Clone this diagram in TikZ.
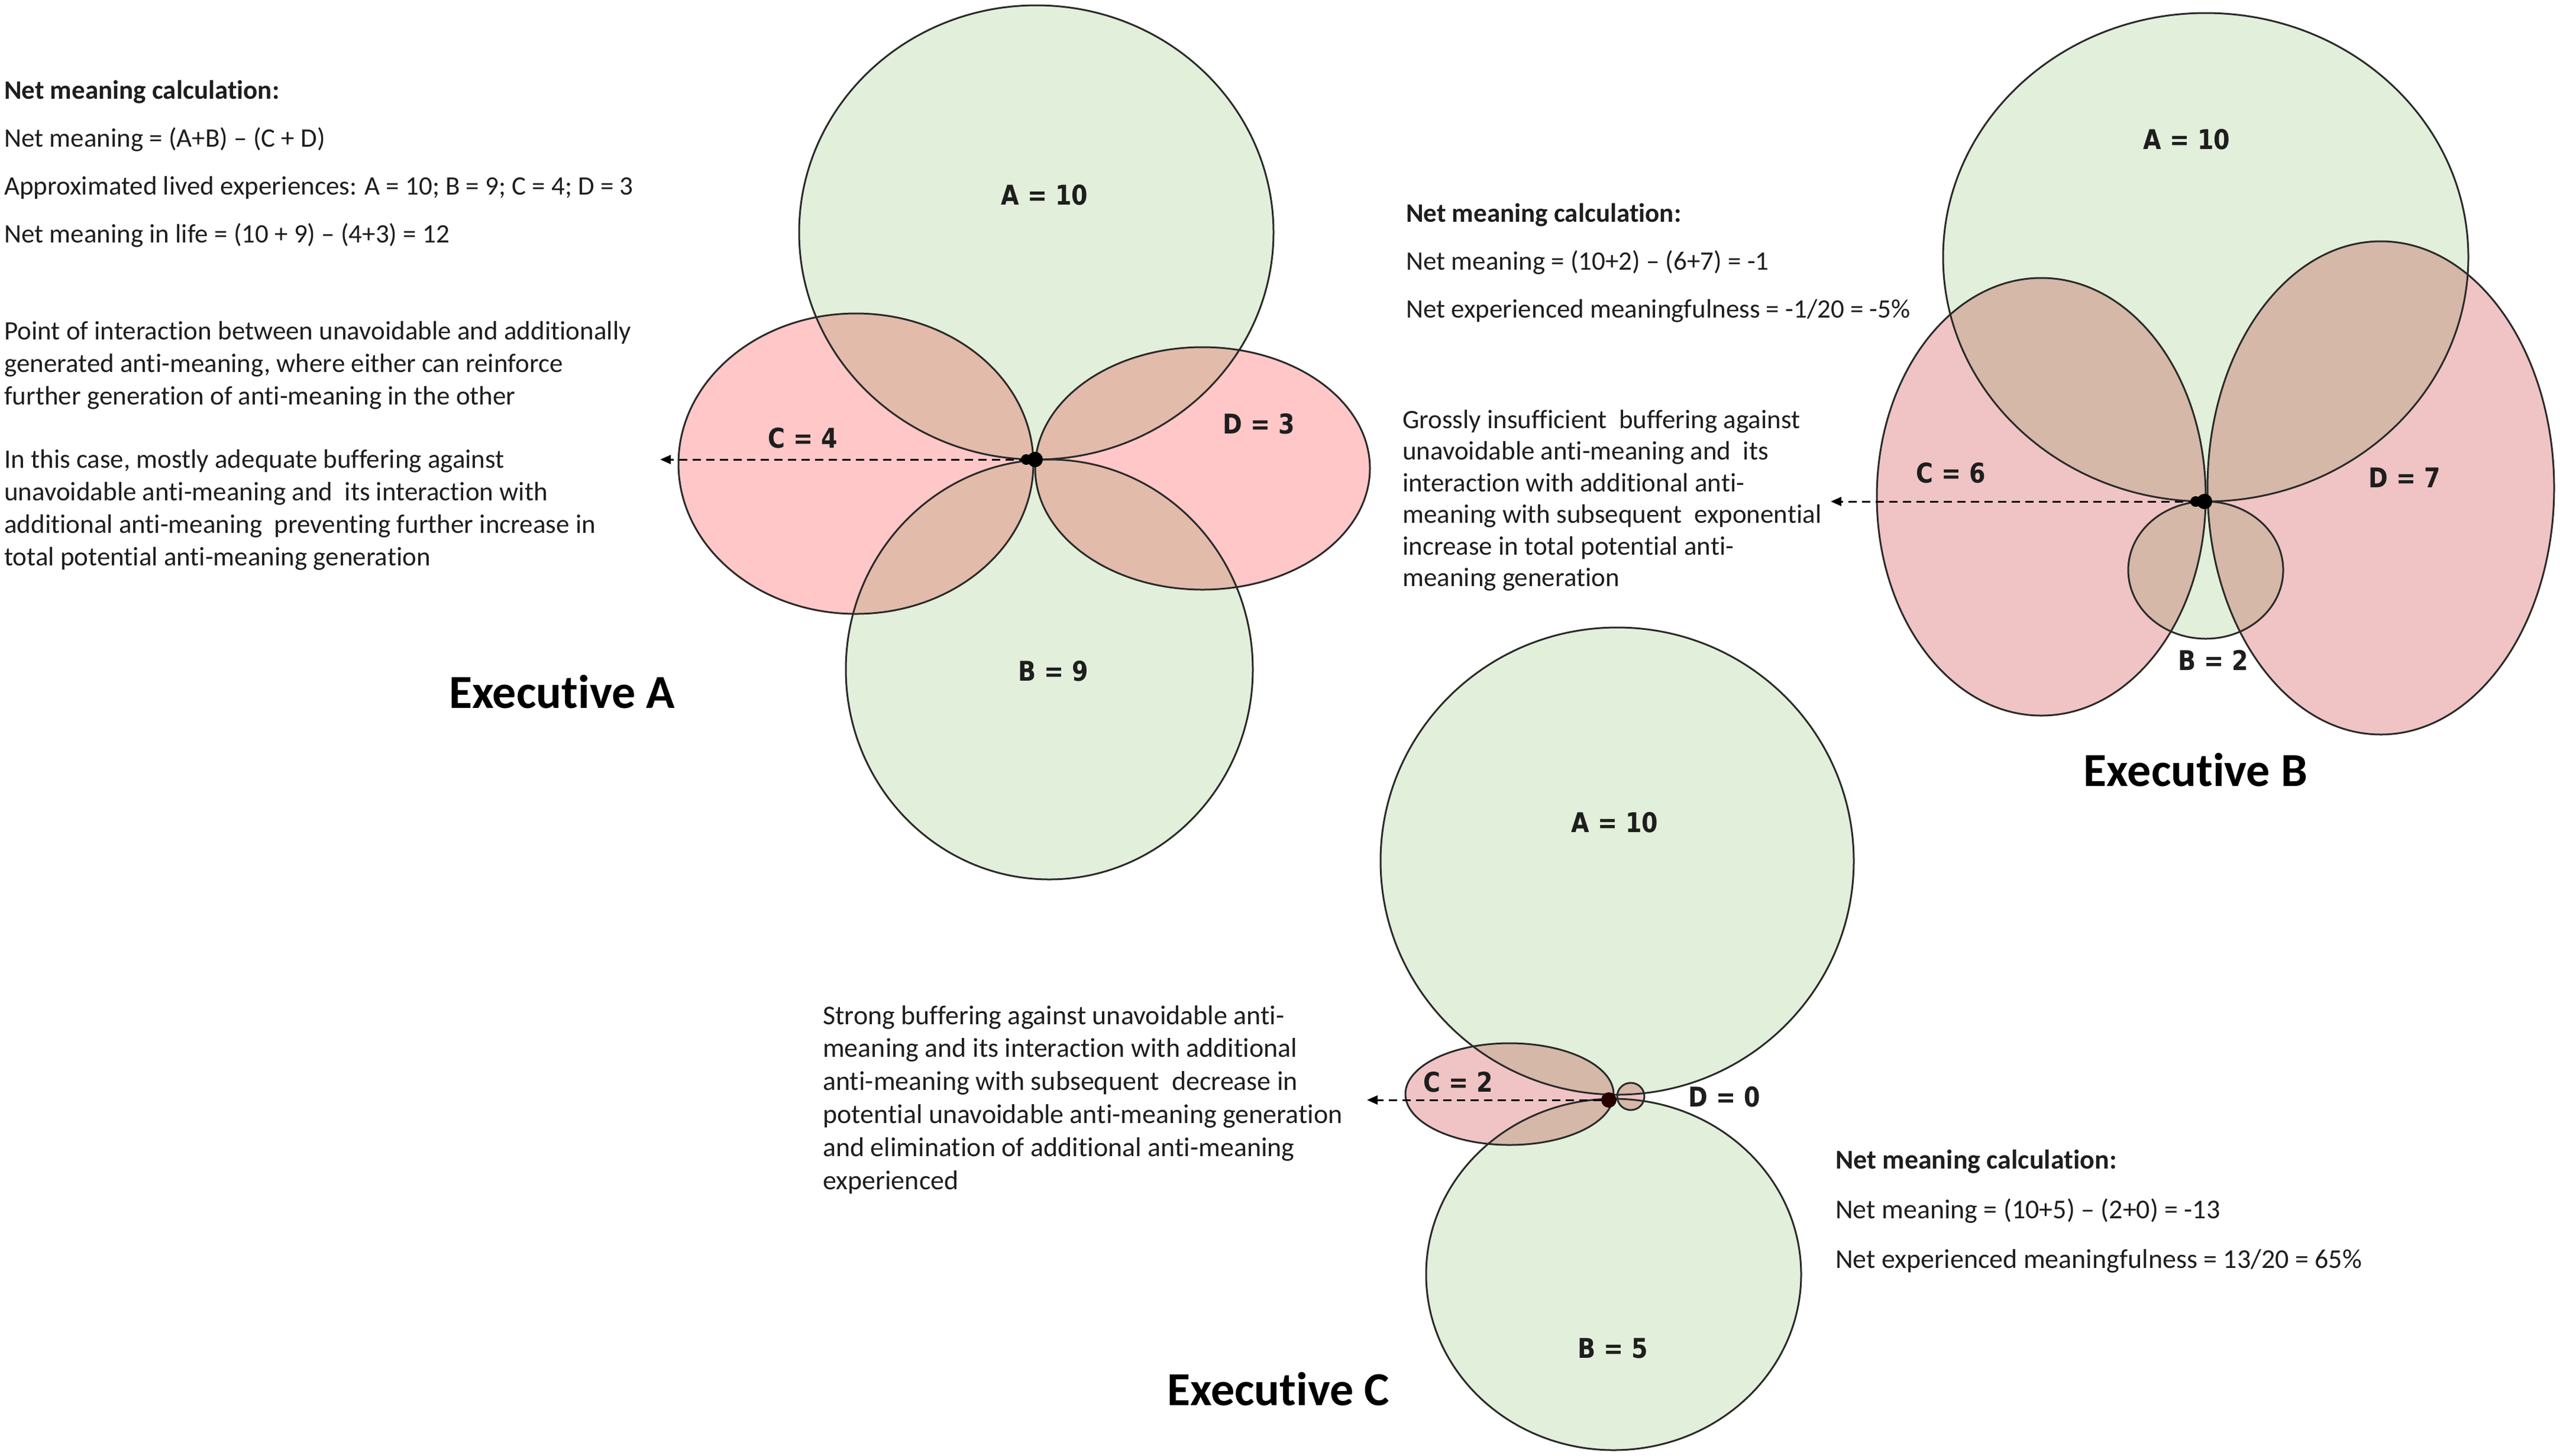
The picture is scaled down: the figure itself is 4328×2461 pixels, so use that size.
\documentclass[tikz,border=0pt]{standalone}
\usepackage{fontspec}
\setmainfont{Carlito}[Ligatures=NoCommon]
\newfontfamily\labfont{DejaVu Sans}
\usepackage{graphicx}
\usetikzlibrary{arrows.meta}
\definecolor{grn}{HTML}{E2EFDA}
\definecolor{pkA}{HTML}{FFC7C8}
\definecolor{ovA}{HTML}{E2BBAB}
\definecolor{pkB}{HTML}{F0C4C4}
\definecolor{ovB}{HTML}{D5B8A8}
\definecolor{edgec}{HTML}{2A2A2A}
\definecolor{txtc}{HTML}{1E1E1E}
\newcommand{\lbl}[1]{\scalebox{0.86}[1]{#1}}
% Executive A shapes
\def\shAA{(1752,393) ellipse [x radius=401pt, y radius=384pt]}
\def\shAB{(1774,1132) ellipse [x radius=344pt, y radius=355pt]}
\def\shAC{(1447,784) ellipse [x radius=300pt, y radius=254pt]}
\def\shAD{(2033,792) ellipse [x radius=283pt, y radius=205pt]}
% Executive B shapes
\def\shBA{(3729,435) ellipse [x radius=444pt, y radius=413pt]}
\def\shBB{(3729,964) ellipse [x radius=131pt, y radius=116pt]}
\def\shBC{(3451,840) ellipse [x radius=278pt, y radius=370pt]}
\def\shBD{(4025,825) ellipse [x radius=293pt, y radius=417pt]}
% Executive C shapes
\def\shCA{(2734,1456) ellipse [x radius=400pt, y radius=395pt]}
\def\shCB{(2728,2155) ellipse [x radius=317pt, y radius=297pt]}
\def\shCC{(2552,1850) ellipse [x radius=176pt, y radius=86pt]}
\def\shCD{(2757,1854) circle [radius=23pt]}
\begin{document}
\begin{tikzpicture}[x=1pt,y=-1pt,
  outl/.style={draw=edgec, line width=3pt},
  dotn/.style={circle, fill=black, minimum size=26pt, inner sep=0pt},
  darr/.style={draw=black, line width=3pt, dash pattern=on 14pt off 9pt, -{Triangle[length=18pt,width=15pt]}},
  lab/.style={inner sep=0pt, text=txtc, font=\labfont\bfseries\fontsize{46}{46}\selectfont},
  exlab/.style={inner sep=0pt, text=black, font=\bfseries\fontsize{80}{80}\selectfont},
  txt/.style={anchor=north west, inner sep=0pt, align=left, text=txtc, font=\fontsize{45}{55}\selectfont},
  calc/.style={txt, font=\fontsize{45}{81}\selectfont}]
\fill[white] (0,0) rectangle (4328,2461);
\useasboundingbox (0,0) rectangle (4328,2461);

% ---------------- Executive A ----------------
\fill[grn] \shAA; \fill[grn] \shAB;
\fill[pkA] \shAC; \fill[pkA] \shAD;
\begin{scope}\clip \shAC; \fill[ovA] \shAA; \fill[ovA] \shAB; \end{scope}
\begin{scope}\clip \shAD; \fill[ovA] \shAA; \fill[ovA] \shAB; \end{scope}
\draw[outl] \shAA; \draw[outl] \shAB; \draw[outl] \shAC; \draw[outl] \shAD;
\node[dotn] (dotA) at (1750,777) {};
\fill (1735,777) circle [radius=9pt];
\coordinate (tipA) at (1116,777);
\draw[darr] (dotA) -- (tipA);
\node[lab] (lAA) at (1766,330) {\lbl{A = 10}};
\node[lab] (lAC) at (1357,741) {\lbl{C = 4}};
\node[lab] (lAD) at (2128,717) {\lbl{D = 3}};
\node[lab] (lAB) at (1781,1135) {\lbl{B = 9}};
\node[exlab] (exA) at (950,1170) {Executive A};

\node[calc] (calcA) at (7,136) {{\bfseries Net meaning calculation:}\\
Net meaning = (A+B) – (C + D)\\
Approximated lived experiences: A = 10; B = 9; C = 4; D = 3\\
Net meaning in life = (10 + 9) – (4+3) = 12};
\node[txt] (ptA) at (7,543) {Point of interaction between unavoidable and additionally\\
generated anti-meaning, where either can reinforce\\
further generation of anti-meaning in the other};
\node[txt] (caseA) at (7,760) {In this case, mostly adequate buffering against\\
unavoidable anti-meaning and \ its interaction with\\
additional anti-meaning \ preventing further increase in\\
total potential anti-meaning generation};

% ---------------- Executive B ----------------
\fill[grn] \shBA; \fill[grn] \shBB;
\fill[pkB] \shBC; \fill[pkB] \shBD;
\begin{scope}\clip \shBC; \fill[ovB] \shBA; \fill[ovB] \shBB; \end{scope}
\begin{scope}\clip \shBD; \fill[ovB] \shBA; \fill[ovB] \shBB; \end{scope}
\draw[outl] \shBA; \draw[outl] \shBB; \draw[outl] \shBC; \draw[outl] \shBD;
\node[dotn] (dotB) at (3727,848) {};
\fill (3712,848) circle [radius=9pt];
\coordinate (tipB) at (3095,848);
\draw[darr] (dotB) -- (tipB);
\node[lab] (lBA) at (3697,236) {\lbl{A = 10}};
\node[lab] (lBC) at (3298,800) {\lbl{C = 6}};
\node[lab] (lBD) at (4065,808) {\lbl{D = 7}};
\node[lab] (lBB) at (3742,1116) {\lbl{B = 2}};
\node[exlab] (exB) at (3712,1302) {Executive B};

\node[calc] (calcB) at (2377,344) {{\bfseries Net meaning calculation:}\\
Net meaning = (10+2) – (6+7) = -1\\
Net experienced meaningfulness = -1/20 = -5\%};
\node[txt, font=\fontsize{45}{53.5}\selectfont] (caseB) at (2371,693) {Grossly insufficient \ buffering against\\
unavoidable anti-meaning and \ its\\
interaction with additional anti-\\
meaning with subsequent \ exponential\\
increase in total potential anti-\\
meaning generation};

% ---------------- Executive C ----------------
\fill[grn] \shCA; \fill[grn] \shCB;
\fill[pkB] \shCC; \fill[pkB] \shCD;
\begin{scope}\clip \shCC; \fill[ovB] \shCA; \fill[ovB] \shCB; \end{scope}
\begin{scope}\clip \shCD; \fill[ovB] \shCA; \fill[ovB] \shCB; \end{scope}
\draw[outl] \shCA; \draw[outl] \shCB; \draw[outl] \shCC; \draw[outl] \shCD;
\node[dotn, fill={rgb,255:red,40;green,0;blue,0}] (dotC) at (2720,1860) {};
\coordinate (tipC) at (2311,1860);
\draw[darr] (dotC) -- (tipC);
\node[lab] (lCA) at (2730,1391) {\lbl{A = 10}};
\node[lab] (lCC) at (2465,1830) {\lbl{C = 2}};
\node[lab] (lCD) at (2915,1855) {\lbl{D = 0}};
\node[lab] (lCB) at (2727,2280) {\lbl{B = 5}};
\node[exlab] (exC) at (2161,2349) {Executive C};

\node[txt, font=\fontsize{46}{55.8}\selectfont] (caseC) at (1391,1700) {Strong buffering against unavoidable anti-\\
meaning and its interaction with additional\\
anti-meaning with subsequent \ decrease in\\
potential unavoidable anti-meaning generation\\
and elimination of additional anti-meaning\\
experienced};
\node[calc, font=\fontsize{46}{84}\selectfont] (calcC) at (3103,1944) {{\bfseries Net meaning calculation:}\\
Net meaning = (10+5) – (2+0) = -13\\
Net experienced meaningfulness = 13/20 = 65\%};
\end{tikzpicture}
\end{document}
